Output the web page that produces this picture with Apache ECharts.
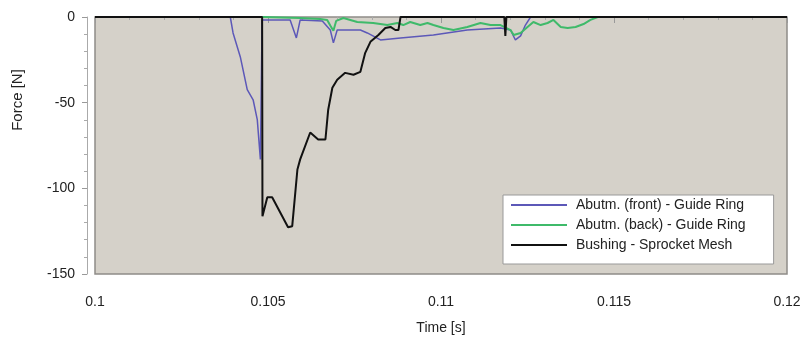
<!DOCTYPE html>
<html>
<head>
<meta charset="utf-8">
<script src="https://cdn.jsdelivr.net/npm/echarts@6/dist/echarts.min.js"></script>
<style>html,body{margin:0;padding:0;background:#fff}#c{width:809px;height:340px}</style>
</head>
<body>
<div id="c"></div>
<script>
// Series data: [time (s), force (N)]
const frontTime  = [0.1, 0.10391, 0.10399, 0.10420, 0.10440, 0.10457, 0.10469, 0.10478, 0.10483, 0.10487, 0.10564, 0.10582, 0.10593, 0.10657, 0.10680, 0.10689, 0.10700, 0.10767, 0.10787, 0.10825, 0.10883, 0.10978, 0.11076, 0.11172, 0.11201, 0.11215, 0.11230, 0.11244, 0.11259, 0.12];
const frontForce = [0, 0, -9.3, -23.3, -42.4, -48.3, -59.9, -83.1, -1.7, -0.6, -1.7, -12.2, -1.7, -2.3, -7.6, -15.1, -7.6, -7.6, -9.3, -13.4, -12.2, -10.5, -7.6, -6.4, -7.6, -13.4, -11.0, -4.7, 0, 0];

const backTime  = [0.1, 0.10486, 0.10593, 0.10651, 0.10671, 0.10680, 0.10689, 0.10697, 0.10718, 0.10758, 0.10804, 0.10845, 0.10874, 0.10891, 0.10911, 0.10940, 0.10961, 0.10978, 0.11007, 0.11036, 0.11076, 0.11114, 0.11143, 0.11172, 0.11201, 0.11210, 0.11230, 0.11250, 0.11267, 0.11288, 0.11308, 0.11325, 0.11346, 0.11366, 0.11389, 0.11412, 0.11432, 0.11453, 0.12];
const backForce = [0, 0, -0.6, -1.2, -1.7, -5.0, -8.0, -2.3, -0.6, -2.9, -3.5, -4.7, -3.5, -4.7, -2.9, -4.7, -3.5, -4.7, -6.4, -7.6, -5.8, -3.5, -4.7, -4.7, -7.6, -10.5, -9.3, -5.8, -2.9, -4.7, -3.5, -1.7, -5.8, -6.4, -5.8, -4.1, -1.7, 0, 0];

const bushTime  = [0.1, 0.10483, 0.10484, 0.10498, 0.10512, 0.10558, 0.10570, 0.10585, 0.10593, 0.10622, 0.10645, 0.10666, 0.10674, 0.10686, 0.10700, 0.10723, 0.10747, 0.10767, 0.10781, 0.10796, 0.10819, 0.10839, 0.10854, 0.10868, 0.10877, 0.10883, 0.11183, 0.11186, 0.11189, 0.12];
const bushForce = [0, 0, -116.3, -105.2, -105.2, -122.7, -122.1, -89.0, -83.1, -67.4, -71.5, -71.5, -54.1, -41.3, -36.6, -32.6, -33.7, -32.0, -20.9, -14.5, -10.5, -6.4, -5.8, -7.6, -7.6, 0, 0, -11, 0, 0];

const seriesNames = ['Abutm. (front) - Guide Ring', 'Abutm. (back) - Guide Ring', 'Bushing - Sprocket Mesh'];
const xTicks = [0.1, 0.105, 0.11, 0.115, 0.12];
const yTicks = [-150, -100, -50, 0];

const zip = (a, b) => a.map((v, i) => [v, b[i]]);
const chart = echarts.init(document.getElementById('c'));
const font = 'Liberation Sans, Arial, sans-serif';
const lineIcon = 'path://M0,0 L56,0 L56,2 L0,2 Z';
chart.setOption({
  animation: false,
  backgroundColor: '#fff',
  grid: { left: 95, right: 22, top: 17, bottom: 65, show: true, backgroundColor: '#d5d1c9', borderColor: '#8e8c88', borderWidth: 1.5 },
  xAxis: {
    type: 'value', min: xTicks[0], max: xTicks[xTicks.length - 1], interval: 0.005, offset: 8,
    name: 'Time [s]', nameLocation: 'middle', nameGap: 39,
    nameTextStyle: { fontFamily: font, fontSize: 14, color: '#222' },
    axisLine: { show: false },
    axisTick: { show: true, length: 6, lineStyle: { color: '#999' } },
    minorTick: { show: true, splitNumber: 5, length: 3, lineStyle: { color: '#aaa' } },
    splitLine: { show: false },
    axisLabel: { fontFamily: font, fontSize: 14, color: '#222', margin: 13, formatter: v => String(+v.toFixed(3)) }
  },
  yAxis: {
    type: 'value', min: yTicks[0], max: yTicks[yTicks.length - 1], interval: 50, offset: 8,
    axisLine: { show: true, lineStyle: { color: '#aaa' } },
    axisTick: { show: true, length: 5, lineStyle: { color: '#999' } },
    minorTick: { show: true, splitNumber: 5, length: 3, lineStyle: { color: '#aaa' } },
    splitLine: { show: false },
    axisLabel: { fontFamily: font, fontSize: 14, color: '#222', margin: 12 }
  },
  graphic: [{
    type: 'text', x: 18, y: 100, rotation: Math.PI / 2,
    style: { text: 'Force [N]', fontFamily: font, fontSize: 15, fill: '#222', align: 'center', verticalAlign: 'middle' }
  }],
  legend: {
    orient: 'vertical', left: 503, top: 195,
    backgroundColor: '#fff', borderColor: '#999', borderWidth: 1,
    padding: [3, 28, 12, 8], itemGap: 6, itemWidth: 56, itemHeight: 2,
    icon: lineIcon,
    textStyle: { fontFamily: font, fontSize: 14, color: '#222', padding: [0, 0, 0, 4] },
    data: seriesNames
  },
  series: [
    { name: seriesNames[0], type: 'line', data: zip(frontTime, frontForce), showSymbol: false, symbol: 'none', lineStyle: { color: '#5c58b8', width: 1.5 }, itemStyle: { color: '#5c58b8' }, z: 2 },
    { name: seriesNames[1], type: 'line', data: zip(backTime, backForce), showSymbol: false, symbol: 'none', lineStyle: { color: '#3fba6a', width: 2 }, itemStyle: { color: '#3fba6a' }, z: 3 },
    { name: seriesNames[2], type: 'line', data: zip(bushTime, bushForce), showSymbol: false, symbol: 'none', lineStyle: { color: '#111', width: 2 }, itemStyle: { color: '#111' }, z: 4 }
  ]
});
</script>
</body>
</html>
